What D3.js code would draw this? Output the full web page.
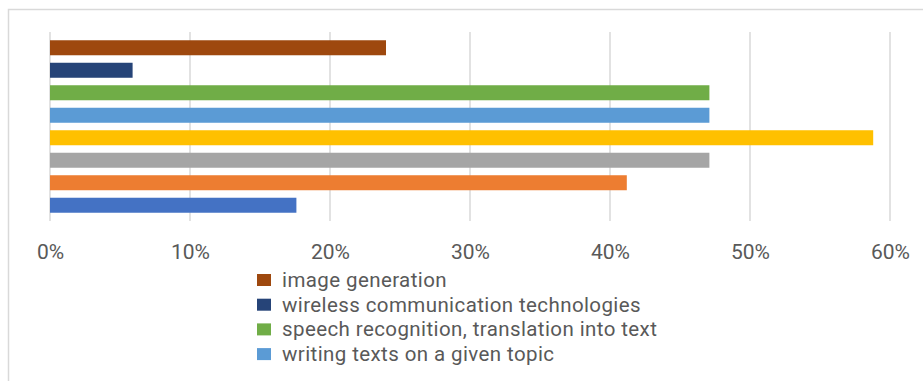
<!DOCTYPE html>
<html>
<head>
<meta charset="utf-8">
<script src="https://cdn.jsdelivr.net/npm/d3@7"></script>
<style>
  html, body { margin: 0; padding: 0; background: #fff; }
  svg { display: block; }
</style>
</head>
<body>
<svg id="chart"></svg>
<script>
// bars listed top to bottom, shares as fractions
const seriesNames = ["image generation", "wireless communication technologies",
    "speech recognition, translation into text", "writing texts on a given topic",
    "series 5", "series 6", "series 7", "series 8"];
const seriesValues = [0.240, 0.059, 0.471, 0.471, 0.588, 0.471, 0.412, 0.176];
const seriesColors = ["#9E480E", "#264478", "#70AD47", "#5B9BD5",
    "#FFC000", "#A5A5A5", "#ED7D31", "#4472C4"];
const xTicks = [0, 0.1, 0.2, 0.3, 0.4, 0.5, 0.6];
// only the first four legend rows fit in the frame
const legendShown = 4;

const width = 923, height = 381;
const font = "Roboto, 'Open Sans', sans-serif";
const svg = d3.select("#chart").attr("width", width).attr("height", height);

// chart frame, runs off the right and bottom edge
svg.append("rect")
    .attr("x", 8.5).attr("y", 9.5)
    .attr("width", 1000).attr("height", 1000)
    .attr("fill", "none")
    .attr("stroke", "#d9d9d9")
    .attr("stroke-width", 1.5);

let x = d3.scaleLinear().domain([0, 0.6]).range([50, 890]);
let y = d3.scaleBand()
    .domain(d3.range(seriesValues.length))
    .range([32, 221])
    .paddingInner(0.333)
    .paddingOuter(0.367);

// gridlines
svg.append("g")
    .selectAll("line")
    .data(xTicks)
    .enter()
    .append("line")
        .attr("x1", d => x(d)).attr("x2", d => x(d))
        .attr("y1", 32).attr("y2", 221)
        .attr("stroke", "#d9d9d9")
        .attr("stroke-width", 1.5);

svg.append("g")
    .selectAll("rect")
    .data(seriesValues)
    .enter()
    .append("rect")
        .attr("x", x(0))
        .attr("y", (d, i) => y(i))
        .attr("width", d => x(d) - x(0))
        .attr("height", y.bandwidth())
        .attr("fill", (d, i) => seriesColors[i]);

// x axis labels
let axis = svg.append("g")
    .attr("transform", "translate(0,259)")
    .call(d3.axisBottom(x).tickValues(xTicks).tickFormat(d3.format(".0%")).tickSize(0).tickPadding(0));
axis.select(".domain").remove();
axis.selectAll("text")
    .attr("dy", 0)
    .attr("fill", "#595959")
    .attr("font-family", font)
    .attr("font-size", 21);

// legend
let legend = svg.append("g")
    .selectAll("g")
    .data(seriesNames.slice(0, legendShown))
    .enter()
    .append("g")
        .attr("transform", (d, i) => "translate(257," + (280 + i * 24.7) + ")");

legend.append("rect")
    .attr("x", 0).attr("y", -6)
    .attr("width", 14).attr("height", 12)
    .attr("fill", (d, i) => seriesColors[i]);

legend.append("text")
    .attr("x", 25)
    .attr("y", 7)
    .attr("fill", "#595959")
    .attr("font-family", font)
    .attr("font-size", 20.5)
    .attr("letter-spacing", 0.4)
    .text(d => d);
</script>
</body>
</html>
